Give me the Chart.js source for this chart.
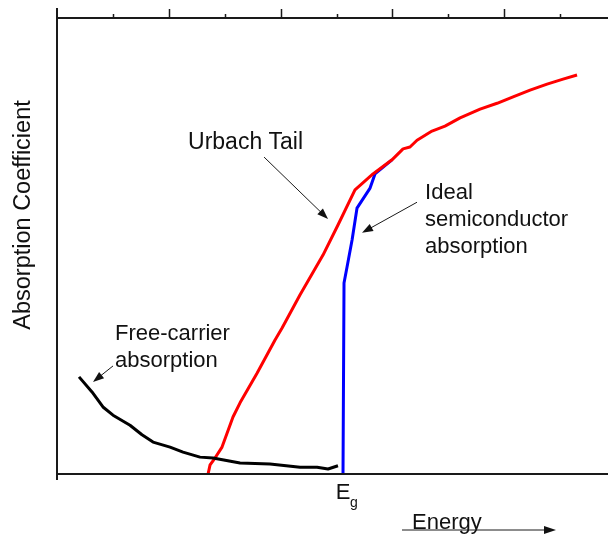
<!DOCTYPE html>
<html>
<head>
<meta charset="utf-8">
<script src="https://cdn.jsdelivr.net/npm/chart.js@4.4.0/dist/chart.umd.min.js"></script>
<style>
  html, body { margin: 0; padding: 0; background: #fff; }
  #wrap { width: 608px; height: 538px; }
</style>
</head>
<body>
<div id="wrap"><canvas id="myChart" width="608" height="538"></canvas></div>
<script>
// energy in arbitrary units (one major tick = 1), absorption in arbitrary units (0..100)
const freeCarrierX = [0.197, 0.313, 0.411, 0.501, 0.653, 0.760, 0.859, 1.011, 1.127, 1.279, 1.395, 1.637, 1.905, 2.174, 2.326, 2.424, 2.513];
const freeCarrierY = [21.3, 18.0, 14.7, 12.9, 10.7, 8.6, 7.0, 5.9, 4.8, 3.7, 3.5, 2.4, 2.2, 1.5, 1.5, 1.1, 1.8];

const urbachX = [1.351, 1.369, 1.413, 1.476, 1.574, 1.637, 1.789, 1.950, 2.013, 2.174, 2.379, 2.513, 2.665, 2.826, 2.996, 3.095, 3.157, 3.220, 3.354, 3.470, 3.605, 3.784, 3.936, 4.079, 4.231, 4.383, 4.526, 4.651];
const urbachY = [0, 2.0, 3.5, 5.9, 12.5, 15.6, 22.1, 29.4, 32.0, 39.3, 48.0, 54.6, 62.3, 65.8, 68.9, 71.3, 71.7, 73.2, 75.2, 76.3, 78.1, 80.0, 81.3, 82.7, 84.2, 85.5, 86.6, 87.5];

const idealX = [2.558, 2.567, 2.594, 2.639, 2.683, 2.800, 2.844, 2.996];
const idealY = [0, 41.9, 45.4, 51.3, 58.3, 62.7, 65.8, 68.9];

const topTicks = [0.5, 1, 1.5, 2, 2.5, 3, 3.5, 4, 4.5];
const bandGap = 2.558;

const labels = [
  { lines: ["Urbach Tail"], x: 1.172, y: 71.3, from: [1.852, 69.5], to: [2.424, 55.9] },
  { lines: ["Ideal", "semiconductor", "absorption"], x: 3.292, y: 60.3, from: [3.220, 59.6], to: [2.728, 52.9] },
  { lines: ["Free-carrier", "absorption"], x: 0.519, y: 29.4, from: [0.501, 23.7], to: [0.322, 20.2] }
];

function points(xs, ys) {
  return xs.map((x, i) => ({ x: x, y: ys[i] }));
}

const FONT = '"Liberation Sans", Arial, sans-serif';
const INK = "#111";

function arrow(ctx, x1, y1, x2, y2, len, half) {
  const a = Math.atan2(y2 - y1, x2 - x1);
  ctx.beginPath();
  ctx.moveTo(x1, y1);
  ctx.lineTo(x2 - Math.cos(a) * len * 0.8, y2 - Math.sin(a) * len * 0.8);
  ctx.stroke();
  ctx.beginPath();
  ctx.moveTo(x2, y2);
  ctx.lineTo(x2 - Math.cos(a) * len + Math.sin(a) * half, y2 - Math.sin(a) * len - Math.cos(a) * half);
  ctx.lineTo(x2 - Math.cos(a) * len - Math.sin(a) * half, y2 - Math.sin(a) * len + Math.cos(a) * half);
  ctx.closePath();
  ctx.fill();
}

const decorations = {
  id: "decorations",
  afterDraw(chart) {
    const ctx = chart.ctx;
    const xs = chart.scales.x, ys = chart.scales.y;
    const area = chart.chartArea;
    ctx.save();
    ctx.strokeStyle = "#1a1a1a";
    ctx.fillStyle = INK;

    // frame: left, top and bottom axes
    ctx.lineWidth = 2;
    ctx.beginPath();
    ctx.moveTo(area.left, area.top - 10);
    ctx.lineTo(area.left, area.bottom + 6);
    ctx.moveTo(area.left, area.top);
    ctx.lineTo(area.right, area.top);
    ctx.moveTo(area.left, area.bottom);
    ctx.lineTo(area.right, area.bottom);
    ctx.stroke();

    // top ticks
    ctx.lineWidth = 1.5;
    topTicks.forEach(t => {
      const px = Math.round(xs.getPixelForValue(t)) + 0.5;
      const len = Number.isInteger(t) ? 9 : 4;
      ctx.beginPath();
      ctx.moveTo(px, area.top);
      ctx.lineTo(px, area.top - len);
      ctx.stroke();
    });

    // annotations
    ctx.textAlign = "left";
    ctx.textBaseline = "alphabetic";
    ctx.lineWidth = 1;
    labels.forEach((l, k) => {
      ctx.font = (k === 0 ? "23px " : "22px ") + FONT;
      const tx = xs.getPixelForValue(l.x), ty = ys.getPixelForValue(l.y);
      l.lines.forEach((s, i) => ctx.fillText(s, tx, ty + i * 27));
      arrow(ctx, xs.getPixelForValue(l.from[0]), ys.getPixelForValue(l.from[1]),
        xs.getPixelForValue(l.to[0]), ys.getPixelForValue(l.to[1]), 11, 4);
    });

    // E_g label
    ctx.font = "22px " + FONT;
    const gx = xs.getPixelForValue(bandGap);
    ctx.textAlign = "center";
    ctx.fillText("E", gx, area.bottom + 25);
    ctx.font = "14px " + FONT;
    ctx.textAlign = "left";
    ctx.fillText("g", gx + 7, area.bottom + 33);

    // Energy label with arrow
    ctx.font = "22px " + FONT;
    ctx.fillText("Energy", area.left + 355, area.bottom + 55);
    arrow(ctx, area.left + 345, area.bottom + 56, area.left + 499, area.bottom + 56, 12, 4);

    // y axis title
    ctx.font = "23.5px " + FONT;
    ctx.translate(area.left - 33, (area.top + area.bottom) / 2 - 31);
    ctx.rotate(-Math.PI / 2);
    ctx.textAlign = "center";
    ctx.textBaseline = "middle";
    ctx.fillText("Absorption Coefficient", 0, 0);
    ctx.restore();
  }
};

new Chart("myChart", {
  type: "scatter",
  data: {
    datasets: [
      { data: points(freeCarrierX, freeCarrierY), borderColor: "#000000" },
      { data: points(urbachX, urbachY), borderColor: "#ff0000" },
      { data: points(idealX, idealY), borderColor: "#0000ff" }
    ]
  },
  options: {
    responsive: false,
    animation: false,
    showLine: true,
    layout: { padding: { left: 57, top: 18, right: 0, bottom: 64 } },
    elements: {
      point: { radius: 0, hoverRadius: 0 },
      line: { borderWidth: 3, tension: 0, borderJoinStyle: "round", borderCapStyle: "butt" }
    },
    scales: {
      x: { type: "linear", min: 0, max: 4.928, display: false },
      y: { type: "linear", min: 0, max: 100, display: false }
    },
    plugins: {
      legend: { display: false },
      tooltip: { enabled: false }
    }
  },
  plugins: [decorations]
});
</script>
</body>
</html>
